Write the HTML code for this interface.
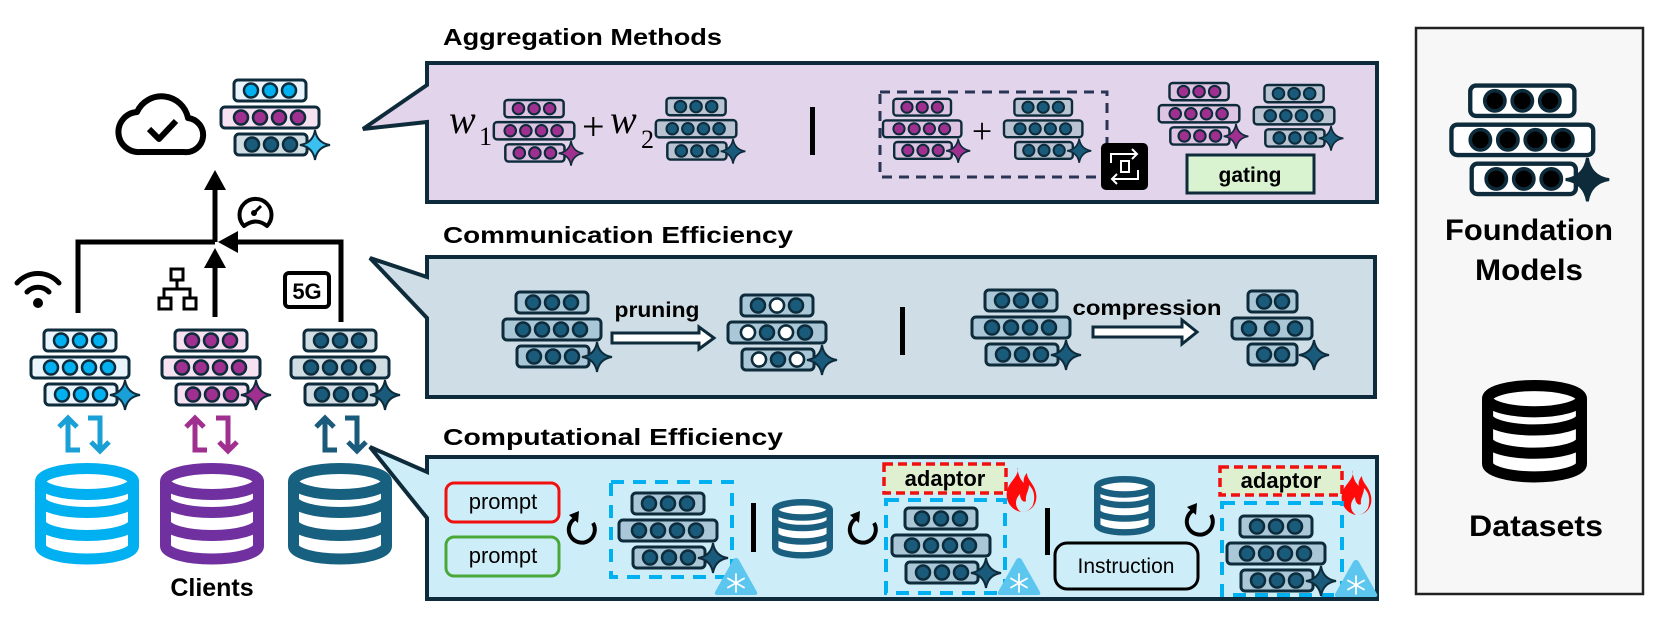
<!DOCTYPE html>
<html><head><meta charset="utf-8"><style>
html,body{margin:0;padding:0;background:#fff}
svg{display:block}
text{font-family:"Liberation Sans",Arial,sans-serif}
</style></head><body>
<svg width="1660" height="623" viewBox="0 0 1660 623" xmlns="http://www.w3.org/2000/svg">
<defs>
<symbol id="m" viewBox="0 0 112 80" overflow="visible">
 <g stroke="#0d2b3a" stroke-width="3">
 <rect x="14" y="1" width="72" height="21" rx="4" style="fill:var(--f1)"/>
 <g stroke-width="2.5" style="fill:var(--c1)"><circle cx="31" cy="11.5" r="7"/><circle cx="50" cy="11.5" r="7"/><circle cx="69" cy="11.5" r="7"/></g>
 <rect x="1" y="28" width="98" height="21" rx="4" style="fill:var(--f2)"/>
 <g stroke-width="2.5" style="fill:var(--c2)"><circle cx="21" cy="38.5" r="7"/><circle cx="40" cy="38.5" r="7"/><circle cx="59" cy="38.5" r="7"/><circle cx="78" cy="38.5" r="7"/></g>
 <rect x="15" y="55" width="72" height="21" rx="4" style="fill:var(--f3)"/>
 <g stroke-width="2.5" style="fill:var(--c3)"><circle cx="32" cy="65.5" r="7"/><circle cx="51" cy="65.5" r="7"/><circle cx="70" cy="65.5" r="7"/></g>
 <path d="M95 51 Q97 64 110 66 Q97 68 95 81 Q93 68 80 66 Q93 64 95 51Z" stroke-width="2" style="fill:var(--s)"/>
 </g>
</symbol>
<symbol id="db" viewBox="0 0 104 104" overflow="visible">
 <g fill="none" stroke-width="11" style="stroke:var(--d)">
 <path d="M5.5 18.5 V83 A46.5 13 0 0 0 98.5 83 V18.5" fill="#fff"/>
 <ellipse cx="52" cy="18.5" rx="46.5" ry="13" fill="#fff"/>
 <path d="M5.5 36.5 A46.5 13 0 0 0 98.5 36.5"/>
 <path d="M5.5 59.5 A46.5 13 0 0 0 98.5 59.5"/>
 </g>
</symbol>
<symbol id="rot" viewBox="-20 -20 40 40" overflow="visible">
 <path d="M-6 -12 A13 13 0 1 0 11 -7" fill="none" stroke="#000" stroke-width="4"/>
 <path d="M-13 -15 L-3 -19 L-4 -7 Z" fill="#000"/>
</symbol>
<symbol id="snow" viewBox="0 0 44 38" overflow="visible">
 <path d="M22 1 Q24 1 25 3 L43 35 Q44 38 41 38 H3 Q0 38 1 35 L19 3 Q20 1 22 1Z" fill="#5cc6ef"/>
 <g stroke="#fff" stroke-width="1.8" stroke-linecap="round">
  <path d="M22 17 V35 M14 21.5 L30 30.5 M14 30.5 L30 21.5"/>
 </g>
</symbol>
<symbol id="flame" viewBox="0 0 32 45" overflow="visible">
 <path d="M12 0 C16 8 4 14 2 24 C0 34 6 43 16 45 C9 40 10 32 15 27 C15 33 19 36 21 34 C20 28 24 24 24 18 C28 22 31 28 28 38 C24 45 18 45 16 45 C27 45 33 36 31 26 C29 16 22 13 22 6 C19 9 18 13 19 16 C14 12 13 5 12 0Z" fill="#ff0a0a"/>
</symbol>
</defs>

<path d="M427 63 H1377 V202 H427 V122 L363 129 L427 85 Z" fill="#e2d4ea" stroke="#0d2b3a" stroke-width="4"/>
<path d="M427 257 H1375 V397 H427 V318 L370 258 L427 277 Z" fill="#cfdee6" stroke="#0d2b3a" stroke-width="4"/>
<path d="M427 457 H1377 V599 H427 V518 L370 447 L427 472 Z" fill="#cdeef9" stroke="#0d2b3a" stroke-width="4"/>

<text x="443" y="45" font-size="23" font-weight="bold" textLength="279" lengthAdjust="spacingAndGlyphs">Aggregation Methods</text>
<text x="443" y="243" font-size="23" font-weight="bold" textLength="350" lengthAdjust="spacingAndGlyphs">Communication Efficiency</text>
<text x="443" y="445" font-size="23" font-weight="bold" textLength="340" lengthAdjust="spacingAndGlyphs">Computational Efficiency</text>

<rect x="1416" y="28" width="227" height="566" fill="#f7f7f7" stroke="#222" stroke-width="2.5"/>
<use href="#m" x="1450" y="84" width="162" height="116" style="--f1:#fff;--f2:#fff;--f3:#fff;--c1:#000;--c2:#000;--c3:#000;--s:#0d2b3a"/>
<text x="1529" y="240" font-size="30" font-weight="bold" text-anchor="middle" textLength="168" lengthAdjust="spacingAndGlyphs">Foundation</text>
<text x="1529" y="280" font-size="30" font-weight="bold" text-anchor="middle" textLength="108" lengthAdjust="spacingAndGlyphs">Models</text>
<use href="#db" x="1482" y="380" width="105" height="105" style="--d:#000"/>
<text x="1536" y="536" font-size="30" font-weight="bold" text-anchor="middle" textLength="134" lengthAdjust="spacingAndGlyphs">Datasets</text>

<g fill="none" stroke="#000" stroke-width="6" stroke-linejoin="round">
 <path d="M140 152 H184 A17 17 0 0 0 188 118 A27 27 0 0 0 137 112 A20 20 0 0 0 140 152 Z"/>
 <path d="M149 129 L159 139 L176 121"/>
</g>
<use href="#m" x="220" y="79" width="112" height="80" style="--f1:#e9f4fc;--c1:#00b0f0;--f2:#f6e2f1;--c2:#a0308f;--f3:#d0dde3;--c3:#1a5a7a;--s:#3cc0f0"/>

<g fill="none" stroke="#000" stroke-width="5">
 <path d="M78 313 V242 H215"/>
 <path d="M341 322 V242 H234"/>
 <path d="M215 317 V264"/>
 <path d="M215 242 V186"/>
</g>
<g fill="#000">
 <path d="M218 242 L238 231 L238 253 Z"/>
 <path d="M215 248 L204 268 L226 268 Z"/>
 <path d="M215 170 L204 190 L226 190 Z"/>
</g>
<g fill="none" stroke="#000" stroke-width="4" stroke-linejoin="round">
 <path d="M244 226 A16 16 0 1 1 267 226 Q256 217 244 226 Z"/>
</g>
<circle cx="254" cy="213" r="3" fill="#000"/>
<path d="M254 213 L261 206" stroke="#000" stroke-width="3"/>
<g fill="none" stroke="#000" stroke-width="5" stroke-linecap="round">
 <path d="M27 292 A15 15 0 0 1 49 292"/>
 <path d="M17 283 A28 28 0 0 1 59 283"/>
</g>
<circle cx="38" cy="303" r="5" fill="#000"/>
<g fill="none" stroke="#000" stroke-width="3">
 <rect x="171" y="269" width="12" height="11"/>
 <path d="M177 280 V289 M164 298 V289 H190 V298"/>
 <rect x="159" y="298" width="12" height="11"/>
 <rect x="184" y="298" width="12" height="11"/>
</g>
<rect x="285" y="273" width="44" height="34" rx="4" fill="none" stroke="#000" stroke-width="4"/>
<text x="307" y="299" font-size="22" font-weight="bold" text-anchor="middle">5G</text>

<use href="#m" x="30" y="329" width="112" height="80" style="--f1:#e9f4fc;--c1:#00b0f0;--f2:#e9f4fc;--c2:#00b0f0;--f3:#e9f4fc;--c3:#00b0f0;--s:#1a9fd6"/>
<use href="#m" x="161" y="329" width="112" height="80" style="--f1:#f6e2f1;--c1:#a0308f;--f2:#f6e2f1;--c2:#a0308f;--f3:#f6e2f1;--c3:#a0308f;--s:#a0308f"/>
<use href="#m" x="290" y="329" width="112" height="80" style="--f1:#d0dde3;--c1:#1a5a7a;--f2:#d0dde3;--c2:#1a5a7a;--f3:#d0dde3;--c3:#1a5a7a;--s:#1a5a7a"/>
<g fill="none" stroke-width="5">
 <g stroke="#1a9fd6"><path d="M80 450 H68 V418 M59 427 L68 418 L77 427"/><path d="M88 418 H100 V451 M91 442 L100 451 L109 442"/></g>
 <g stroke="#a0308f"><path d="M207 450 H195 V418 M186 427 L195 418 L204 427"/><path d="M216 418 H228 V451 M219 442 L228 451 L237 442"/></g>
 <g stroke="#1a5a7a"><path d="M337 450 H325 V418 M316 427 L325 418 L334 427"/><path d="M345 418 H357 V451 M348 442 L357 451 L366 442"/></g>
</g>
<use href="#db" x="35" y="463" width="104" height="104" style="--d:#00b0f0"/>
<use href="#db" x="160" y="463" width="104" height="104" style="--d:#7030a0"/>
<use href="#db" x="288" y="463" width="104" height="104" style="--d:#17607f"/>
<text x="212" y="596" font-size="25" font-weight="bold" text-anchor="middle">Clients</text>

<text x="449" y="133" style="font-family:'Liberation Serif',serif;font-style:italic;font-size:40px">w</text>
<text x="479" y="145" style="font-family:'Liberation Serif',serif;font-size:26px">1</text>
<use href="#m" x="493" y="99" width="92" height="66" style="--f1:#ddc4e3;--c1:#a0308f;--f2:#ddc4e3;--c2:#a0308f;--f3:#ddc4e3;--c3:#a0308f;--s:#a0308f"/>
<text x="582" y="140" style="font-family:'Liberation Serif',serif;font-size:40px">+</text>
<text x="610" y="133" style="font-family:'Liberation Serif',serif;font-style:italic;font-size:40px">w</text>
<text x="641" y="148" style="font-family:'Liberation Serif',serif;font-size:26px">2</text>
<use href="#m" x="655" y="97" width="92" height="66" style="--f1:#b9c3d2;--c1:#1a5a7a;--f2:#b9c3d2;--c2:#1a5a7a;--f3:#b9c3d2;--c3:#1a5a7a;--s:#1a5a7a"/>
<rect x="810" y="107" width="5" height="48" fill="#000"/>
<rect x="880" y="92" width="227" height="85" fill="none" stroke="#2a3556" stroke-width="3" stroke-dasharray="10 7"/>
<use href="#m" x="882" y="98" width="90" height="64" style="--f1:#ddc4e3;--c1:#a0308f;--f2:#ddc4e3;--c2:#a0308f;--f3:#ddc4e3;--c3:#a0308f;--s:#a0308f"/>
<text x="982" y="143" text-anchor="middle" style="font-family:'Liberation Serif',serif;font-size:36px">+</text>
<use href="#m" x="1003" y="98" width="90" height="64" style="--f1:#b9c3d2;--c1:#1a5a7a;--f2:#b9c3d2;--c2:#1a5a7a;--f3:#b9c3d2;--c3:#1a5a7a;--s:#1a5a7a"/>
<rect x="1101" y="143" width="47" height="47" rx="5" fill="#000"/>
<g fill="none" stroke="#fff" stroke-width="2">
 <path d="M1111 163 V154 H1137 M1132 149 L1137 154 L1132 159"/>
 <path d="M1138 170 V179 H1112 M1117 174 L1112 179 L1117 184"/>
 <path d="M1121 161 V172 H1129 V161 Z"/>
</g>
<use href="#m" x="1158" y="82" width="92" height="66" style="--f1:#ddc4e3;--c1:#a0308f;--f2:#ddc4e3;--c2:#a0308f;--f3:#ddc4e3;--c3:#a0308f;--s:#a0308f"/>
<use href="#m" x="1253" y="84" width="92" height="66" style="--f1:#b9c3d2;--c1:#1a5a7a;--f2:#b9c3d2;--c2:#1a5a7a;--f3:#b9c3d2;--c3:#1a5a7a;--s:#1a5a7a"/>
<rect x="1187" y="155" width="127" height="38" fill="#d9f2d0" stroke="#0d2b3a" stroke-width="3"/>
<text x="1250" y="182" font-size="21" font-weight="bold" text-anchor="middle">gating</text>

<use href="#m" x="502" y="291" width="112" height="80" style="--f1:#a9c7d6;--c1:#1a5a7a;--f2:#a9c7d6;--c2:#1a5a7a;--f3:#a9c7d6;--c3:#1a5a7a;--s:#1a5a7a"/>
<text x="657" y="317" font-size="21" font-weight="bold" text-anchor="middle" textLength="85" lengthAdjust="spacingAndGlyphs">pruning</text>
<path d="M612 333 H699 V327 L714 338 L699 349 V343 H612 Z" fill="#fff" stroke="#0d2b3a" stroke-width="3"/>
<use href="#m" x="727" y="294" width="112" height="80" style="--f1:#a9c7d6;--c1:#1a5a7a;--f2:#a9c7d6;--c2:#1a5a7a;--f3:#a9c7d6;--c3:#1a5a7a;--s:#1a5a7a"/>
<g fill="#fff" stroke="#0d2b3a" stroke-width="2.5">
 <circle cx="777" cy="305.5" r="7"/><circle cx="748" cy="332.5" r="7"/><circle cx="786" cy="332.5" r="7"/><circle cx="759" cy="359.5" r="7"/><circle cx="797" cy="359.5" r="7"/>
</g>
<rect x="900" y="307" width="5" height="48" fill="#000"/>
<use href="#m" x="971" y="289" width="112" height="80" style="--f1:#a9c7d6;--c1:#1a5a7a;--f2:#a9c7d6;--c2:#1a5a7a;--f3:#a9c7d6;--c3:#1a5a7a;--s:#1a5a7a"/>
<text x="1147" y="315" font-size="21" font-weight="bold" text-anchor="middle" textLength="149" lengthAdjust="spacingAndGlyphs">compression</text>
<path d="M1093 327 H1182 V320 L1197 332 L1182 344 V337 H1093 Z" fill="#fff" stroke="#0d2b3a" stroke-width="3"/>
<g stroke="#0d2b3a" stroke-width="3" fill="#a9c7d6">
 <rect x="1248" y="291" width="49" height="21" rx="4"/>
 <rect x="1232" y="318" width="80" height="21" rx="4"/>
 <rect x="1248" y="344" width="49" height="21" rx="4"/>
 <g fill="#1a5a7a" stroke-width="2.5">
  <circle cx="1264" cy="301.5" r="7"/><circle cx="1282" cy="301.5" r="7"/>
  <circle cx="1249" cy="328.5" r="7"/><circle cx="1272" cy="328.5" r="7"/><circle cx="1295" cy="328.5" r="7"/>
  <circle cx="1264" cy="354.5" r="7"/><circle cx="1282" cy="354.5" r="7"/>
 </g>
 <path d="M1314 340 Q1316 353 1329 355 Q1316 357 1314 370 Q1312 357 1299 355 Q1312 353 1314 340Z" fill="#1a5a7a" stroke-width="2"/>
</g>

<rect x="446" y="483" width="113" height="39" rx="8" fill="none" stroke="#f01010" stroke-width="3"/>
<text x="503" y="509" font-size="22" text-anchor="middle">prompt</text>
<rect x="446" y="537" width="113" height="39" rx="8" fill="none" stroke="#4aa83a" stroke-width="3"/>
<text x="503" y="563" font-size="22" text-anchor="middle">prompt</text>
<use href="#rot" x="562" y="510" width="40" height="40"/>
<rect x="611" y="482" width="121" height="95" fill="none" stroke="#00b0f0" stroke-width="4" stroke-dasharray="13 9"/>
<use href="#m" x="618" y="492" width="112" height="80" style="--f1:#a9c7d6;--c1:#1a5a7a;--f2:#a9c7d6;--c2:#1a5a7a;--f3:#a9c7d6;--c3:#1a5a7a;--s:#1a5a7a"/>
<use href="#snow" x="714" y="557" width="44" height="38"/>
<rect x="751" y="503" width="5" height="49" fill="#000"/>
<use href="#db" x="772" y="499" width="61" height="61" style="--d:#1a5f80"/>
<use href="#rot" x="843" y="510" width="40" height="40"/>
<rect x="884" y="464" width="122" height="29" fill="#dff0d0" stroke="#f01010" stroke-width="3.5" stroke-dasharray="9 5"/>
<text x="945" y="486" font-size="22" font-weight="bold" text-anchor="middle">adaptor</text>
<use href="#flame" x="1005" y="467" width="32" height="45"/>
<rect x="886" y="500" width="119" height="93" fill="none" stroke="#00b0f0" stroke-width="4" stroke-dasharray="13 9"/>
<use href="#m" x="891" y="507" width="112" height="80" style="--f1:#a9c7d6;--c1:#1a5a7a;--f2:#a9c7d6;--c2:#1a5a7a;--f3:#a9c7d6;--c3:#1a5a7a;--s:#1a5a7a"/>
<use href="#snow" x="997" y="557" width="44" height="38"/>
<rect x="1045" y="508" width="5" height="47" fill="#000"/>
<use href="#db" x="1094" y="476" width="61" height="61" style="--d:#1a5f80"/>
<rect x="1055" y="543" width="143" height="46" rx="12" fill="none" stroke="#000" stroke-width="3"/>
<text x="1126" y="573" font-size="21" text-anchor="middle">Instruction</text>
<use href="#rot" x="1180" y="502" width="40" height="40"/>
<rect x="1220" y="467" width="122" height="28" fill="#dff0d0" stroke="#f01010" stroke-width="3.5" stroke-dasharray="9 5"/>
<text x="1281" y="488" font-size="22" font-weight="bold" text-anchor="middle">adaptor</text>
<use href="#flame" x="1340" y="470" width="32" height="45"/>
<rect x="1222" y="503" width="120" height="92" fill="none" stroke="#00b0f0" stroke-width="4" stroke-dasharray="13 9"/>
<use href="#m" x="1226" y="515" width="112" height="80" style="--f1:#a9c7d6;--c1:#1a5a7a;--f2:#a9c7d6;--c2:#1a5a7a;--f3:#a9c7d6;--c3:#1a5a7a;--s:#1a5a7a"/>
<use href="#snow" x="1334" y="559" width="44" height="38"/>
</svg>
</body></html>
